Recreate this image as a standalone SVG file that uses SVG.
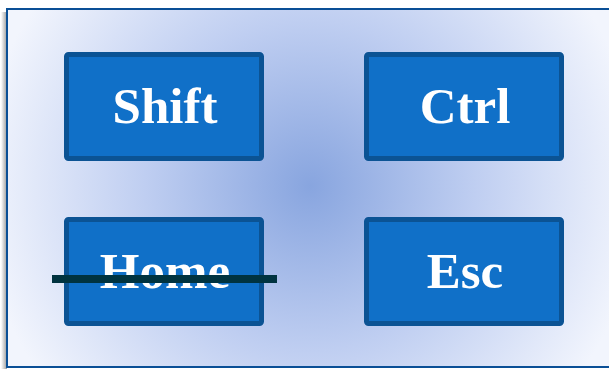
<svg xmlns="http://www.w3.org/2000/svg" width="609" height="369" viewBox="0 0 609 369">
<defs>
<radialGradient id="bg" cx="310" cy="186" r="330" gradientUnits="userSpaceOnUse">
<stop offset="0" stop-color="#88a5df"/>
<stop offset="0.5" stop-color="#bfcef1"/>
<stop offset="1" stop-color="#f2f5fd"/>
</radialGradient>
<linearGradient id="sh" x1="0" y1="0" x2="1" y2="0">
<stop offset="0" stop-color="#ffffff"/>
<stop offset="1" stop-color="#9a9a9a"/>
</linearGradient>
<style>
.key rect{fill:#1070c8;stroke:#0b5394;stroke-width:5}
.key text{font-family:"Liberation Serif","Times New Roman",serif;font-weight:bold;font-size:51px;fill:#ffffff;text-anchor:middle}
</style>
</defs>
<rect x="0" y="0" width="609" height="369" fill="#ffffff"/>
<rect x="1" y="12" width="6" height="357" fill="url(#sh)"/>
<rect x="7" y="9" width="605" height="358" fill="url(#bg)" stroke="#0a4f96" stroke-width="2"/>
<g id="shift" class="key">
<rect x="66.5" y="54.5" width="195" height="104" rx="2"/>
<text x="165" y="123">Shift</text>
</g>
<g id="ctrl" class="key">
<rect x="366.5" y="54.5" width="195" height="104" rx="2"/>
<text x="465" y="123">Ctrl</text>
</g>
<g id="home" class="key">
<rect x="66.5" y="219.5" width="195" height="104" rx="2"/>
<text x="165" y="288">Home</text>
</g>
<g id="esc" class="key">
<rect x="366.5" y="219.5" width="195" height="104" rx="2"/>
<text x="465" y="288">Esc</text>
</g>
<g id="connectors">
<line x1="52" y1="279" x2="277" y2="279" stroke="#003340" stroke-width="8"/>
</g>
</svg>
